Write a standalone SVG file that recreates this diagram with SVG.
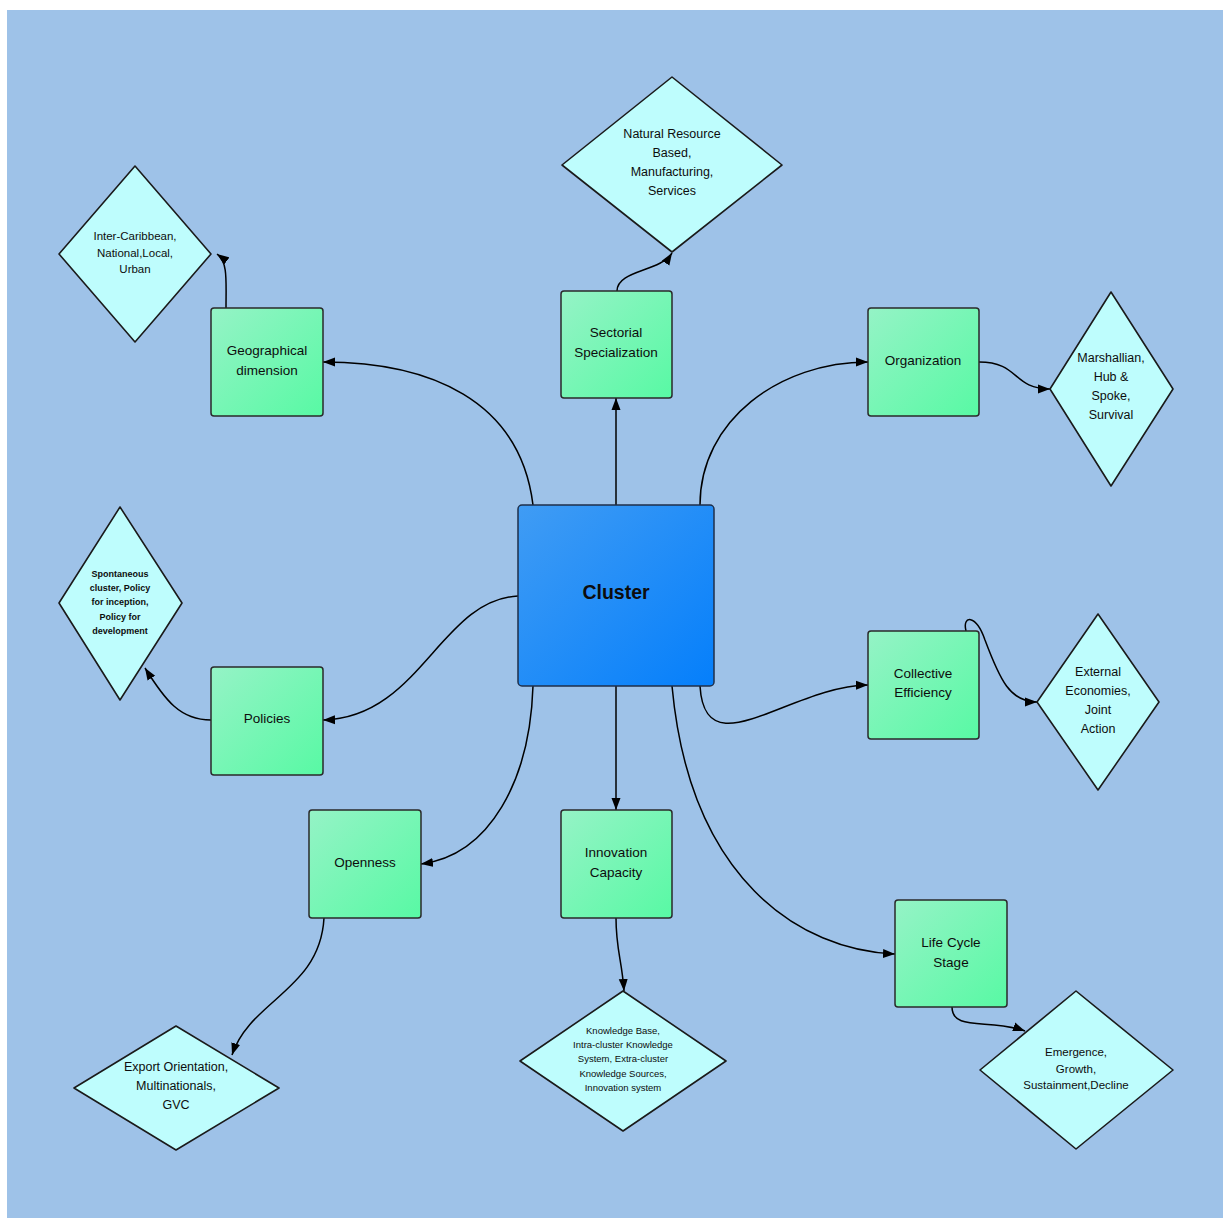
<svg xmlns="http://www.w3.org/2000/svg" width="1223" height="1219" viewBox="0 0 1223 1219">
<defs>
<linearGradient id="gGreen" x1="0" y1="0" x2="1" y2="1">
<stop offset="0" stop-color="#95f3c6"/>
<stop offset="1" stop-color="#58f9a4"/>
</linearGradient>
<linearGradient id="gBlue" x1="0" y1="0" x2="1" y2="1">
<stop offset="0" stop-color="#409cf4"/>
<stop offset="1" stop-color="#057ffb"/>
</linearGradient>
<marker id="arr" viewBox="0 0 12 10" refX="12" refY="5" markerWidth="12" markerHeight="10" markerUnits="userSpaceOnUse" orient="auto">
<path d="M0,0.5 L12,5 L0,9.5 Z" fill="#000"/>
</marker>
<style>
.box{fill:url(#gGreen);stroke:#2a2a2a;stroke-width:1.5}
.dia{fill:#befdfd;stroke:#1a1a1a;stroke-width:1.6;stroke-linejoin:round}
.t{font-family:"Liberation Sans",Arial,sans-serif;fill:#0d0d0d;text-anchor:middle}
.bt{font-size:13.5px}
.dt{font-size:12.5px}
.con{fill:none;stroke:#000;stroke-width:1.5;marker-end:url(#arr)}
</style>
</defs>
<rect x="0" y="0" width="1223" height="1219" fill="#ffffff"/>
<rect x="7" y="10" width="1216" height="1208" fill="#9ec2e8"/>

<g id="connectors">
<path class="con" d="M533,505 C520,400 430,362 323,362"/>
<path class="con" d="M616,505 L616,398"/>
<path class="con" d="M700,505 C700,420 780,362 868,362"/>
<path class="con" d="M518,596 C440,600 420,718 323,720"/>
<path class="con" d="M533,686 C530,780 490,855 421,864"/>
<path class="con" d="M616,686 L616,810"/>
<path class="con" d="M700,686 C705,770 790,686 868,685"/>
<path class="con" d="M672,686 C690,880 800,950 895,954"/>
<path class="con" d="M226,308 C226,280 228,262 217,254"/>
<path class="con" d="M617,291 C617,270 660,272 672,253"/>
<path class="con" d="M979,362 C1020,362 1012,389 1050,389"/>
<path class="con" d="M211,720 C180,720 165,700 145,668"/>
<path class="con" d="M966,631 C962,615 976,614 985,640 C1000,680 1010,702 1037,702"/>
<path class="con" d="M324,918 C320,990 250,1000 232,1055"/>
<path class="con" d="M616,918 C616,950 622,960 624,991"/>
<path class="con" d="M952,1007 C952,1032 990,1018 1025,1031"/>
</g>

<g id="cluster">
<rect x="518" y="505" width="196" height="181" rx="4" fill="url(#gBlue)" stroke="#1f2f4a" stroke-width="1.5"/>
<text class="t" x="616" y="599" font-size="19.5" font-weight="bold">Cluster</text>
</g>

<g id="geographical">
<rect class="box" x="211" y="308" width="112" height="108" rx="3"/>
<text class="t bt" x="267" y="355">Geographical</text>
<text class="t bt" x="267" y="375">dimension</text>
</g>
<g id="geo-values">
<polygon class="dia" points="135,166 211,254 135,342 59,254"/>
<text class="t" font-size="11.5" x="135" y="240">Inter-Caribbean,</text>
<text class="t" font-size="11.5" x="135" y="257">National,Local,</text>
<text class="t" font-size="11.5" x="135" y="273">Urban</text>
</g>

<g id="sectorial">
<rect class="box" x="561" y="291" width="111" height="107" rx="3"/>
<text class="t bt" x="616" y="337">Sectorial</text>
<text class="t bt" x="616" y="357">Specialization</text>
</g>
<g id="sector-values">
<polygon class="dia" points="672,77 782,165 672,252 562,165"/>
<text class="t dt" x="672" y="138">Natural Resource</text>
<text class="t dt" x="672" y="157">Based,</text>
<text class="t dt" x="672" y="176">Manufacturing,</text>
<text class="t dt" x="672" y="195">Services</text>
</g>

<g id="organization">
<rect class="box" x="868" y="308" width="111" height="108" rx="3"/>
<text class="t bt" x="923" y="365">Organization</text>
</g>
<g id="org-values">
<polygon class="dia" points="1111,292 1173,389 1111,486 1050,389"/>
<text class="t dt" x="1111" y="362">Marshallian,</text>
<text class="t dt" x="1111" y="381">Hub &amp;</text>
<text class="t dt" x="1111" y="400">Spoke,</text>
<text class="t dt" x="1111" y="419">Survival</text>
</g>

<g id="policies">
<rect class="box" x="211" y="667" width="112" height="108" rx="3"/>
<text class="t bt" x="267" y="723">Policies</text>
</g>
<g id="policy-values">
<polygon class="dia" points="120,507 182,603 120,700 59,603"/>
<text class="t" font-size="9" font-weight="bold" x="120" y="577">Spontaneous</text>
<text class="t" font-size="9" font-weight="bold" x="120" y="591">cluster, Policy</text>
<text class="t" font-size="9" font-weight="bold" x="120" y="605">for inception,</text>
<text class="t" font-size="9" font-weight="bold" x="120" y="620">Policy for</text>
<text class="t" font-size="9" font-weight="bold" x="120" y="634">development</text>
</g>

<g id="collective">
<rect class="box" x="868" y="631" width="111" height="108" rx="3"/>
<text class="t bt" x="923" y="678">Collective</text>
<text class="t bt" x="923" y="697">Efficiency</text>
</g>
<g id="collective-values">
<polygon class="dia" points="1098,614 1159,702 1098,790 1037,702"/>
<text class="t dt" x="1098" y="676">External</text>
<text class="t dt" x="1098" y="695">Economies,</text>
<text class="t dt" x="1098" y="714">Joint</text>
<text class="t dt" x="1098" y="733">Action</text>
</g>

<g id="openness">
<rect class="box" x="309" y="810" width="112" height="108" rx="3"/>
<text class="t bt" x="365" y="867">Openness</text>
</g>
<g id="openness-values">
<polygon class="dia" points="176,1026 279,1088 176,1150 74,1088"/>
<text class="t dt" x="176" y="1071">Export Orientation,</text>
<text class="t dt" x="176" y="1090">Multinationals,</text>
<text class="t dt" x="176" y="1109">GVC</text>
</g>

<g id="innovation">
<rect class="box" x="561" y="810" width="111" height="108" rx="3"/>
<text class="t bt" x="616" y="857">Innovation</text>
<text class="t bt" x="616" y="877">Capacity</text>
</g>
<g id="innovation-values">
<polygon class="dia" points="623,991 726,1061 623,1131 520,1061"/>
<text class="t" font-size="9.5" x="623" y="1034">Knowledge Base,</text>
<text class="t" font-size="9.5" x="623" y="1048">Intra-cluster Knowledge</text>
<text class="t" font-size="9.5" x="623" y="1062">System, Extra-cluster</text>
<text class="t" font-size="9.5" x="623" y="1077">Knowledge Sources,</text>
<text class="t" font-size="9.5" x="623" y="1091">Innovation system</text>
</g>

<g id="lifecycle">
<rect class="box" x="895" y="900" width="112" height="107" rx="3"/>
<text class="t bt" x="951" y="947">Life Cycle</text>
<text class="t bt" x="951" y="967">Stage</text>
</g>
<g id="lifecycle-values">
<polygon class="dia" points="1076,991 1173,1070 1076,1149 980,1070"/>
<text class="t" font-size="11.5" x="1076" y="1056">Emergence,</text>
<text class="t" font-size="11.5" x="1076" y="1073">Growth,</text>
<text class="t" font-size="11.5" x="1076" y="1089">Sustainment,Decline</text>
</g>
</svg>
